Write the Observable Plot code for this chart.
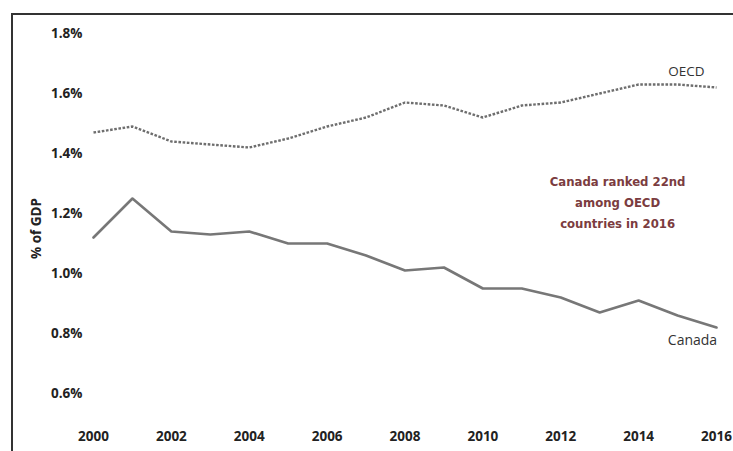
<!DOCTYPE html>
<html>
<head>
<meta charset="utf-8">
<script src="https://cdn.jsdelivr.net/npm/d3@7"></script>
<script src="https://cdn.jsdelivr.net/npm/@observablehq/plot@0.6"></script>
<style>
  html, body { margin: 0; padding: 0; background: #fff; }
  #wrap { position: relative; width: 733px; height: 451px; }
  #frame { position: absolute; left: 11px; top: 13px; right: 0; bottom: 0;
           border-top: 2px solid #333; border-left: 2px solid #333; pointer-events: none; }
</style>
</head>
<body>
<div id="wrap"><div id="frame"></div></div>
<script>
const years = [2000,2001,2002,2003,2004,2005,2006,2007,2008,2009,2010,2011,2012,2013,2014,2015,2016];
const oecd   = [1.47,1.49,1.44,1.43,1.42,1.45,1.49,1.52,1.57,1.56,1.52,1.56,1.57,1.60,1.63,1.63,1.62];
const canada = [1.12,1.25,1.14,1.13,1.14,1.10,1.10,1.06,1.01,1.02,0.95,0.95,0.92,0.87,0.91,0.86,0.82];
const yTicks = [0.6,0.8,1.0,1.2,1.4,1.6,1.8];
const xTicks = [2000,2002,2004,2006,2008,2010,2012,2014,2016];
const seriesLabels = ["OECD","Canada"];
const yLabel = "% of GDP";
const yLabelValue = 1.15;
const noteText = "Canada ranked 22nd\namong OECD\ncountries in 2016";
const noteYear = 2013.46;
const noteValue = 1.243;

const oecdData = years.map((y,i) => ({year: y, value: oecd[i]}));
const canData = years.map((y,i) => ({year: y, value: canada[i]}));
const last = years.length - 1;

const font = "'Open Sans', 'DejaVu Sans', sans-serif";

const chart = Plot.plot({
  width: 733,
  height: 451,
  marginLeft: 93,
  marginRight: 17,
  marginTop: 33,
  marginBottom: 58,
  style: {fontFamily: font, background: "transparent", overflow: "visible"},
  x: {domain: [2000, 2016]},
  y: {domain: [0.6, 1.8]},
  marks: [
    Plot.axisY({ticks: yTicks, tickSize: 0, tickPadding: 11, tickFormat: d => d.toFixed(1) + "%",
      fontSize: 13.5, fontWeight: "bold", fill: "#222", label: null}),
    Plot.axisX({ticks: xTicks, tickSize: 0, tickPadding: 38, tickFormat: d => String(d),
      fontSize: 13.5, fontWeight: "bold", fill: "#222", label: null}),
    Plot.text([yLabel], {frameAnchor: "left", y: yLabelValue, text: d => d, rotate: -90, dx: -57,
      textAnchor: "middle", fontSize: 13.5, fontWeight: "bold", fill: "#222"}),
    Plot.line(oecdData, {x: "year", y: "value", stroke: "#6e6e6e", strokeWidth: 2.4,
      strokeDasharray: "2.6,1.6", strokeLinecap: "butt"}),
    Plot.line(canData, {x: "year", y: "value", stroke: "#777", strokeWidth: 2.6}),
    Plot.text([seriesLabels[0]], {x: years[last], y: oecd[last], text: d => d, dx: -30, dy: -16,
      fontSize: 13.5, fill: "#333"}),
    Plot.text([seriesLabels[1]], {x: years[last], y: canada[last], text: d => d, dx: -24, dy: 13,
      fontSize: 14, fill: "#333"}),
    Plot.text([noteText], {x: noteYear, y: noteValue, text: d => d, lineHeight: 1.6,
      fontSize: 13, fontWeight: "bold", fill: "#7b3c40",
      fontFamily: "'Liberation Sans Narrow', 'DejaVu Sans Condensed', sans-serif"})
  ]
});
document.getElementById("wrap").prepend(chart);
</script>
</body>
</html>
